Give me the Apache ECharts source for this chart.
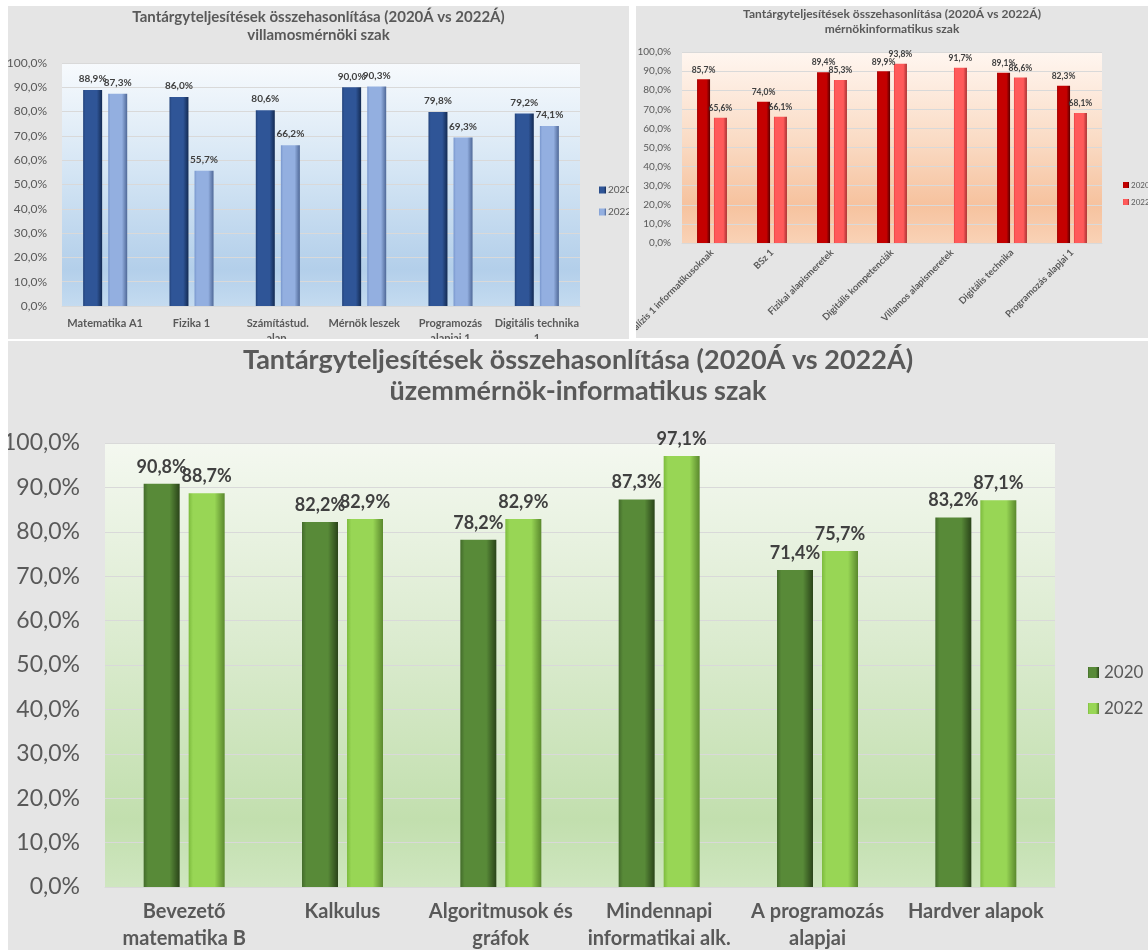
<!DOCTYPE html>
<html>
<head>
<meta charset="utf-8">
<title>Tantárgyteljesítések összehasonlítása</title>
<script src="https://cdn.jsdelivr.net/npm/echarts@6/dist/echarts.min.js"></script>
<style>
  html, body { margin: 0; padding: 0; background: #fff; }
  .panel { position: absolute; background: #e5e5e5; overflow: hidden; }
  #villamos { left: 8px; top: 6px; width: 621px; height: 333px; }
  #mernokinfo { left: 636px; top: 6px; width: 512px; height: 332px; }
  #uzemmernok { left: 8px; top: 341px; width: 1140px; height: 609px; }
</style>
</head>
<body>
<div id="villamos" class="panel"></div>
<div id="mernokinfo" class="panel"></div>
<div id="uzemmernok" class="panel"></div>
<script>
var mainTitle = 'Tantárgyteljesítések összehasonlítása (2020Á vs 2022Á)'
var years = ['2020', '2022']
var yMin = 0
var yMax = 100
var yStep = 10

// villamosmérnöki szak
var villamosCategories = ['Matematika A1', 'Fizika 1', 'Számítástud.\nalap.', 'Mérnök leszek', 'Programozás\nalapjai 1', 'Digitális technika\n1']
var villamos2020 = [88.9, 86.0, 80.6, 90.0, 79.8, 79.2]
var villamos2022 = [87.3, 55.7, 66.2, 90.3, 69.3, 74.1]

// mérnökinformatikus szak (2020-ban nem volt Villamos alapismeretek)
var mernokCategories = ['Analízis 1 informatikusoknak', 'BSz 1', 'Fizikai alapismeretek', 'Digitális kompetenciák', 'Villamos alapismeretek', 'Digitális technika', 'Programozás alapjai 1']
var mernok2020 = [85.7, 74.0, 89.4, 89.9, null, 89.1, 82.3]
var mernok2022 = [65.6, 66.1, 85.3, 93.8, 91.7, 86.6, 68.1]

// üzemmérnök-informatikus szak
var uzemCategories = ['Bevezető\nmatematika B', 'Kalkulus', 'Algoritmusok és\ngráfok', 'Mindennapi\ninformatikai alk.', 'A programozás\nalapjai', 'Hardver alapok']
var uzem2020 = [90.8, 82.2, 78.2, 87.3, 71.4, 83.2]
var uzem2022 = [88.7, 82.9, 82.9, 97.1, 75.7, 87.1]

var FONT = 'Lato, "Noto Sans", sans-serif'

// 12,3% formátum
function pct(v) {
  var n = typeof v === 'object' ? v.value : v
  return Number(n).toFixed(1).replace('.', ',') + '%'
}

// vízszintes színátmenet a "3D" oszlophoz: [bal szél, közép, jobb szél]
function bevel(c) {
  return {
    type: 'linear', x: 0, y: 0, x2: 1, y2: 0,
    colorStops: [
      { offset: 0, color: c[0] },
      { offset: 0.12, color: c[1] },
      { offset: 0.72, color: c[1] },
      { offset: 1, color: c[2] }
    ]
  }
}

function vertical(stops) {
  return {
    type: 'linear', x: 0, y: 0, x2: 0, y2: 1,
    colorStops: stops.map(function(s) { return { offset: s[0], color: s[1] } })
  }
}

function makeOption(c) {
  return {
    animation: false,
    textStyle: { fontFamily: FONT },
    title: {
      text: mainTitle + '\n' + c.subtitle,
      left: 'center',
      top: c.titleTop,
      padding: 0,
      textStyle: { fontFamily: FONT, fontSize: c.titleSize, fontWeight: 'bold', color: '#595959', lineHeight: c.titleLine }
    },
    legend: {
      data: years,
      orient: 'vertical',
      left: c.legendLeft,
      top: c.legendTop,
      padding: 0,
      icon: 'rect',
      itemWidth: c.legendIcon,
      itemHeight: c.legendIcon,
      itemGap: c.legendGap,
      textStyle: { fontFamily: FONT, fontSize: c.legendSize, color: '#595959', padding: [0, 0, 0, c.legendTextPad] }
    },
    grid: {
      left: c.grid[0], top: c.grid[1], right: c.grid[2], bottom: c.grid[3],
      show: true,
      borderWidth: 0,
      backgroundColor: vertical(c.plotBg),
      containLabel: false,
      outerBoundsMode: 'none'
    },
    xAxis: {
      type: 'category',
      data: c.categories,
      axisTick: { show: false },
      axisLine: { lineStyle: { color: '#d9d9d9' } },
      axisLabel: {
        interval: 0,
        rotate: c.xRotate || 0,
        margin: c.xMargin,
        fontFamily: FONT,
        fontSize: c.xSize,
        fontWeight: 'bold',
        color: '#595959',
        lineHeight: c.xLine
      }
    },
    yAxis: {
      type: 'value',
      min: yMin,
      max: yMax,
      interval: yStep,
      axisLine: { show: false },
      axisTick: { show: false },
      axisLabel: { formatter: pct, margin: c.yMargin, fontFamily: FONT, fontSize: c.ySize, color: '#595959' },
      splitLine: { lineStyle: { color: '#d9d9d9', width: 1 } }
    },
    series: [
      {
        name: years[0], type: 'bar', data: c.data[0],
        barWidth: c.barWidth, barGap: c.barGap,
        itemStyle: { color: bevel(c.colors[0]) },
        label: { show: true, position: 'top', distance: c.labelDist, formatter: pct, fontFamily: FONT, fontSize: c.labelSize, fontWeight: 'bold', color: '#404040' }
      },
      {
        name: years[1], type: 'bar', data: c.data[1],
        barWidth: c.barWidth, barGap: c.barGap,
        itemStyle: { color: bevel(c.colors[1]) },
        label: { show: true, position: 'top', distance: c.labelDist, formatter: pct, fontFamily: FONT, fontSize: c.labelSize, fontWeight: 'bold', color: '#404040' }
      }
    ]
  }
}

var villamosChart = echarts.init(document.getElementById('villamos'))
villamosChart.setOption(makeOption({
  subtitle: 'villamosmérnöki szak',
  titleTop: 2, titleSize: 15, titleLine: 18,
  legendLeft: 591, legendTop: 179, legendIcon: 7, legendGap: 12, legendSize: 10, legendTextPad: -3,
  grid: [54, 57, 49, 33],
  plotBg: [[0, '#f7fafd'], [0.45, '#d4e5f4'], [0.85, '#b3cfea'], [1, '#c4dbf0']],
  categories: villamosCategories,
  xMargin: 10, xSize: 11, xLine: 15,
  yMargin: 15, ySize: 12,
  barWidth: 19, barGap: '32%',
  labelDist: 6, labelSize: 10,
  colors: [['#22427a', '#2f5597', '#132a52'], ['#7896cc', '#93afe0', '#4f6897']],
  data: [villamos2020, villamos2022]
}))

var mernokChart = echarts.init(document.getElementById('mernokinfo'))
mernokChart.setOption(makeOption({
  subtitle: 'mérnökinformatikus szak',
  titleTop: 1, titleSize: 12, titleLine: 15,
  legendLeft: 487, legendTop: 175, legendIcon: 6, legendGap: 9, legendSize: 8, legendTextPad: -3,
  grid: [46, 46, 46, 95],
  plotBg: [[0, '#fff6f0'], [0.45, '#fadcc6'], [0.8, '#f6c29e'], [1, '#f9d2b6']],
  categories: mernokCategories,
  xRotate: 45, xMargin: 8, xSize: 9.5, xLine: 11,
  yMargin: 11, ySize: 10,
  barWidth: 13, barGap: '30%',
  labelDist: 5, labelSize: 8.5,
  colors: [['#990000', '#c40000', '#5c0000'], ['#e84444', '#ff5a5a', '#a83232']],
  data: [mernok2020, mernok2022]
}))

var uzemChart = echarts.init(document.getElementById('uzemmernok'))
uzemChart.setOption(makeOption({
  subtitle: 'üzemmérnök-informatikus szak',
  titleTop: 4, titleSize: 27, titleLine: 31,
  legendLeft: 1080, legendTop: 323, legendIcon: 11, legendGap: 19, legendSize: 17, legendTextPad: 0,
  grid: [97, 102, 93, 63],
  plotBg: [[0, '#f4f8f0'], [0.45, '#dbebcf'], [0.85, '#c2dfae'], [1, '#cfe6c0']],
  categories: uzemCategories,
  xMargin: 11, xSize: 20, xLine: 27,
  yMargin: 25, ySize: 23,
  barWidth: 36, barGap: '25%',
  labelDist: 8, labelSize: 18,
  colors: [['#436b2b', '#588a38', '#2a4419'], ['#7dbb3e', '#98d655', '#5a882d']],
  data: [uzem2020, uzem2022]
}))
</script>
</body>
</html>
